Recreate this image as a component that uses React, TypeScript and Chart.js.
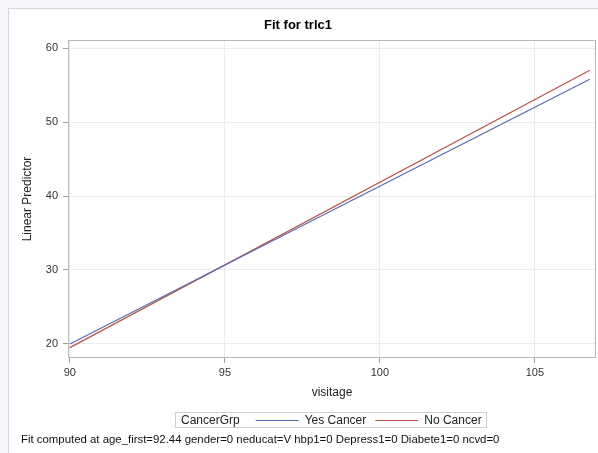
import React, { useEffect, useRef } from "react";
import { Chart, registerables } from "chart.js";

Chart.register(...registerables);

// Fitted linear predictor by cancer group, evaluated at the ends of the visitage range
const visitAge = [90, 106.77];
const yesCancer = [20.0, 55.8];
const noCancer = [19.5, 57.0];
const seriesNames = ["Yes Cancer", "No Cancer"];
const seriesColors = ["#5869ad", "#b4544a"];
const xTicks = [90, 95, 100, 105];
const yTicks = [20, 30, 40, 50, 60];
const chartTitle = "Fit for trlc1";
const xTitle = "visitage";
const yTitle = "Linear Predictor";
const legendTitle = "CancerGrp";
const footnote =
  "Fit computed at age_first=92.44 gender=0 neducat=V hbp1=0 Depress1=0 Diabete1=0 ncvd=0";

const FONT = "'Liberation Sans', Arial, sans-serif";

// Draws the plot frame, the inline legend box and the footnote line
const decorations = {
  id: "decorations",
  afterDatasetsDraw(chart: any) {
    const { ctx, chartArea: a } = chart;
    ctx.save();
    ctx.strokeStyle = "#b5b9b9";
    ctx.lineWidth = 1;
    ctx.strokeRect(
      Math.round(a.left) + 0.5,
      Math.round(a.top) + 0.5,
      Math.round(a.right - a.left) - 1,
      Math.round(a.bottom - a.top) - 1
    );
    ctx.restore();
  },
  afterDraw(chart: any) {
    const { ctx, chartArea: a } = chart;
    ctx.save();
    ctx.font = `12px ${FONT}`;
    ctx.textBaseline = "middle";
    ctx.fillStyle = "#222";
    const items = chart.data.datasets.map((d: any) => ({
      label: d.label as string,
      color: d.borderColor as string,
      w: ctx.measureText(d.label).width,
    }));
    const titleW = ctx.measureText(legendTitle).width;
    const padL = 6, padR = 4, titleGap = 16, lineLen = 43, lineGap = 6, itemGap = 9;
    let total = padL + titleW + titleGap + padR;
    items.forEach((it: any, i: number) => {
      total += lineLen + lineGap + it.w + (i > 0 ? itemGap : 0);
    });
    const cx = (a.left + a.right) / 2 - 2;
    const boxX = Math.round(cx - total / 2);
    const boxY = Math.round(a.bottom + 54);
    const boxH = 15;
    ctx.strokeStyle = "#cfcfcf";
    ctx.lineWidth = 1;
    ctx.strokeRect(boxX + 0.5, boxY + 0.5, Math.round(total), boxH);
    const midY = boxY + boxH / 2 + 1;
    let x = boxX + padL;
    ctx.fillText(legendTitle, x, midY);
    x += titleW + titleGap;
    items.forEach((it: any, i: number) => {
      if (i > 0) x += itemGap;
      ctx.strokeStyle = it.color;
      ctx.beginPath();
      ctx.moveTo(x, Math.round(midY) - 0.5);
      ctx.lineTo(x + lineLen, Math.round(midY) - 0.5);
      ctx.stroke();
      x += lineLen + lineGap;
      ctx.fillStyle = "#222";
      ctx.fillText(it.label, x, midY);
      x += it.w;
    });

    ctx.font = `11.4px ${FONT}`;
    ctx.fillStyle = "#111";
    ctx.fillText(footnote, 21, boxY + 28);
    ctx.restore();
  },
};

export default function App() {
  const canvasRef = useRef<HTMLCanvasElement | null>(null);

  useEffect(() => {
    const canvas = canvasRef.current;
    if (!canvas) return;
    const line = (label: string, ys: number[], color: string) => ({
      label,
      data: visitAge.map((x, i) => ({ x, y: ys[i] })),
      borderColor: color,
      backgroundColor: color,
      borderWidth: 1.2,
      pointRadius: 0,
      tension: 0,
      fill: false,
    });
    const chart = new Chart(canvas, {
      type: "line",
      data: {
        datasets: [
          line(seriesNames[0], yesCancer, seriesColors[0]),
          line(seriesNames[1], noCancer, seriesColors[1]),
        ],
      },
      options: {
        responsive: false,
        animation: false,
        layout: { padding: { left: 0, top: 0, right: 2, bottom: 45 } },
        plugins: {
          legend: { display: false },
          tooltip: { enabled: false },
          title: {
            display: true,
            text: chartTitle,
            color: "#000",
            font: { family: FONT, size: 13, weight: "bold" },
            padding: { top: 18, bottom: 6.4 },
          },
        },
        scales: {
          x: {
            type: "linear",
            min: 89.94,
            max: 106.97,
            afterBuildTicks: (s: any) => {
              s.ticks = xTicks.map((v) => ({ value: v }));
            },
            afterFit: (s: any) => {
              s.height = 50;
            },
            grid: {
              color: "#ebebeb",
              tickColor: "#a0a0a0",
              tickLength: 5,
            },
            border: { display: false },
            ticks: {
              color: "#333",
              padding: 3,
              maxRotation: 0,
              font: { family: FONT, size: 11 },
            },
            title: {
              display: true,
              text: xTitle,
              color: "#222",
              font: { family: FONT, size: 12 },
              padding: { top: 0, bottom: 8 },
            },
          },
          y: {
            type: "linear",
            min: 18.1,
            max: 61.1,
            afterBuildTicks: (s: any) => {
              s.ticks = yTicks.map((v) => ({ value: v }));
            },
            afterFit: (s: any) => {
              s.width = 68;
            },
            grid: {
              color: "#ebebeb",
              tickColor: "#a0a0a0",
              tickLength: 5,
            },
            border: { display: false },
            ticks: {
              color: "#333",
              padding: 5,
              font: { family: FONT, size: 11 },
            },
            title: {
              display: true,
              text: yTitle,
              color: "#222",
              font: { family: FONT, size: 12 },
              padding: { top: 20, bottom: 0 },
            },
          },
        },
      },
      plugins: [decorations],
    });
    return () => chart.destroy();
  }, []);

  return (
    <div
      style={{
        position: "fixed",
        left: 0,
        top: 0,
        width: 598,
        height: 453,
        background: "#f4f5f9",
        overflow: "hidden",
      }}
    >
      <div
        style={{
          position: "absolute",
          left: 8,
          top: 8,
          right: 0,
          bottom: 0,
          background: "#fff",
          borderLeft: "1px solid #d4d6d8",
          borderTop: "1px solid #d4d6d8",
        }}
      />
      <canvas
        ref={canvasRef}
        width={598}
        height={453}
        style={{ position: "absolute", left: 0, top: 0, width: 598, height: 453 }}
      />
    </div>
  );
}
